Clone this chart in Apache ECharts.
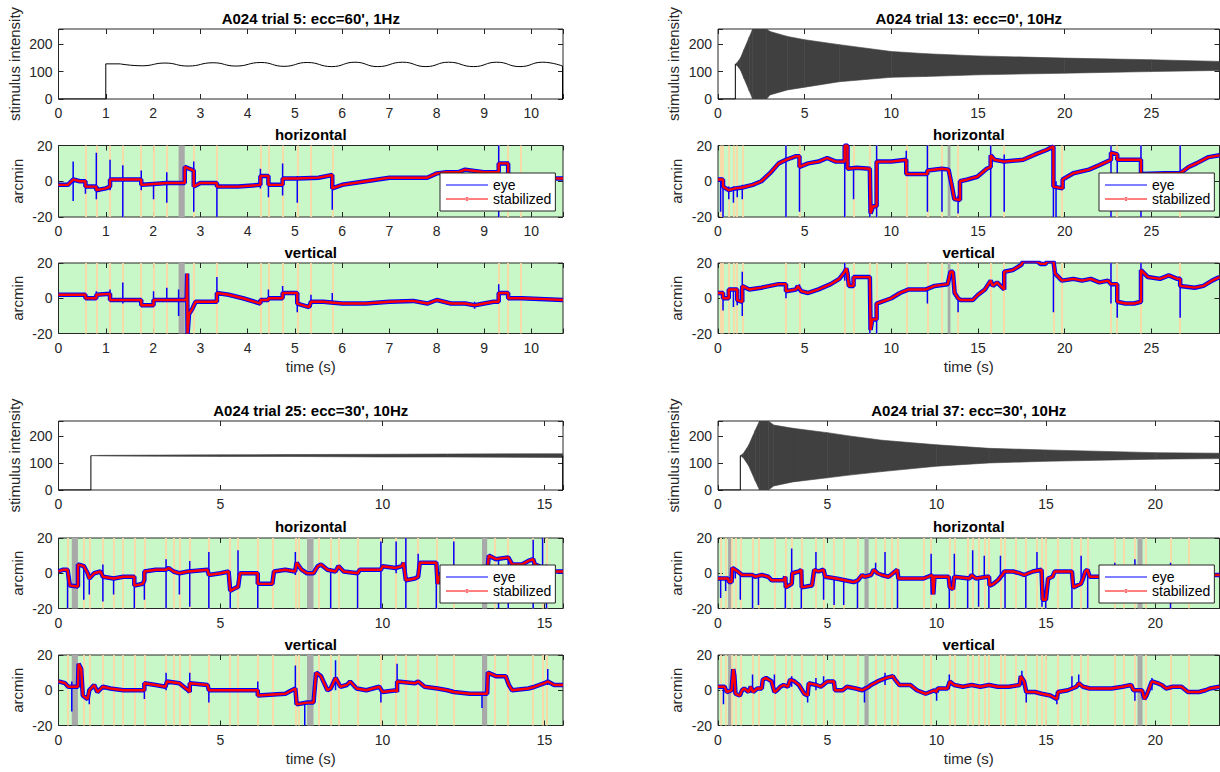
<!DOCTYPE html>
<html><head><meta charset="utf-8">
<script src="https://cdn.jsdelivr.net/npm/echarts@6/dist/echarts.min.js"></script>
<style>html,body{margin:0;padding:0;background:#fff}#c{width:1220px;height:772px}</style>
</head><body><div id="c"></div>
<script>
// ---------------- DATA ----------------
const titles = ["A024 trial 5: ecc=60', 1Hz", "A024 trial 13: ecc=0', 10Hz", "A024 trial 25: ecc=30', 10Hz", "A024 trial 37: ecc=30', 10Hz"];
const xMax = [10.67, 28.93, 15.57, 22.94];
const xInterval = [1, 5, 5, 5];

// stimulus, trial 5 (1 Hz, visible sine)
const stim5Step = [[0,0],[1,0],[1,128],[1.3,128]];
const stim5Wave = [[1.3,128],[1.77,121],[2.25,131],[2.74,120],[3.27,132],[3.75,120],[4.28,133],[4.77,119],[5.26,133],[5.78,118],[6.27,134],[6.75,118],[7.28,134],[7.77,118],[8.25,134],[8.78,118],[9.27,134],[9.76,118],[10.24,134],[10.66,120]];
const stim5End = [[10.66,120],[10.66,0]];
// stimulus envelopes [t, low, high] for 10 Hz trials
const stim13Step = [[0,0],[1.0,0],[1.0,127]];
const env13 = [[1.0,127,127],[1.1,122,132],[1.3,105,150],[1.5,75,180],[1.8,30,225],[2.0,0,255],[2.8,0,255],[3.0,15,246],[4.0,33,228],[5.0,43,216],[7.0,63,198],[10,79,173],[12,82,165],[15,88,157],[20,94,149],[25,100,143],[28.93,104,137]];
const stim25Step = [[0,0],[1.0,0],[1.0,127]];
const env25 = [[1.0,127,127],[1.3,126,128],[3,125,129],[5,124,130],[7,124,131],[10,122,132],[12,122,133],[15.56,120,134]];
const stim25End = [[15.56,127],[15.56,0]];
const stim37Step = [[0,0],[1.02,0],[1.02,127]];
const env37 = [[1.02,127,127],[1.15,120,134],[1.4,90,165],[1.7,35,220],[1.9,0,255],[2.3,0,255],[2.55,15,240],[3.43,30,228],[5,45,212],[6,55,200],[7.5,68,184],[10,88,167],[12.4,100,154],[15,106,148],[20,114,138],[22.94,116,136]];

// event markers
const orange5 = [0.57,0.80,1.09,1.36,1.75,2.01,2.29,2.86,3.35,4.27,4.44,4.74,5.05,5.34,5.79,9.31,9.51,9.78];
const gray5 = [[2.54,2.67]];
const orange13 = [0.15,0.29,0.62,0.89,1.11,1.40,3.92,4.70,7.31,7.82,8.76,9.15,10.86,12.08,12.92,13.85,15.73,16.51,19.35,19.84,22.67,23.03,24.40,26.66];
const gray13 = [[13.25,13.41]];
const orange25 = [0.28,0.78,0.95,1.37,1.70,1.99,2.34,2.65,3.32,3.55,3.73,4.05,4.64,5.30,5.54,6.15,6.60,7.31,7.43,8.02,8.40,8.64,9.23,9.95,10.42,10.72,11.10,11.66,12.20,13.46,13.88,14.65,14.94,15.06];
const gray25 = [[0.41,0.60],[7.67,7.87],[13.07,13.23]];
const orange37 = [0.12,0.35,0.65,0.79,1.02,1.58,1.85,2.58,3.08,3.37,3.81,4.48,4.83,5.31,5.75,6.38,7.21,7.64,7.96,8.21,9.40,9.75,10.58,10.81,11.42,11.65,11.92,12.18,12.39,12.92,13.13,13.62,14.08,14.59,14.82,14.99,15.55,16.19,16.61,16.91,18.15,18.54,19.07,19.56,20.70,21.53];
const gray37 = [[0.46,0.62],[6.70,6.89],[19.19,19.42]];

// eye traces (arcmin) [t, value]; spikes [t, low, high]
const h5 = [[0,-2],[0.2,-2],[0.31,1],[0.45,0],[0.57,0],[0.57,-3],[0.8,-3],[0.8,-5],[1.0,-4],[1.09,-3],[1.09,1],[1.4,1],[1.75,1],[1.75,-2],[2.01,-1.5],[2.29,-1],[2.54,-1],[2.67,-1],[2.67,8],[2.86,6],[2.86,-3],[3.0,-1],[3.35,-1],[3.35,-3],[3.8,-3],[4.27,-2],[4.27,3],[4.44,3],[4.44,-2],[4.74,-2],[4.74,1.5],[5.05,1.5],[5.5,2],[5.79,3.5],[5.79,-4],[6.0,-2],[6.5,0],[7.0,2],[7.5,2],[7.8,2],[8.0,4.4],[8.2,5],[8.45,5],[8.6,6.5],[8.99,5],[9.31,5],[9.31,10],[9.51,10],[9.51,3],[9.8,2],[10.4,1.6],[10.67,1.5]];
const spikes5h = [[0.31,-11,11],[0.57,-7,-1],[0.8,-10,16],[1.09,-5,12],[1.36,-20,9],[1.75,-5,6],[2.01,-10,-1],[2.29,-12,5],[2.86,-17,11],[3.35,-20,-1],[4.27,-4,7],[4.44,-9,3],[4.74,-8,10],[5.05,-12,3],[5.79,-16,4],[9.31,-20,20],[9.51,2,11]];
const v5 = [[0,2],[0.57,2],[0.57,0],[0.8,0],[0.8,2],[1.09,2.5],[1.09,-1],[1.36,-1],[1.75,-1],[1.75,-4],[2.01,-4],[2.01,-1],[2.29,-1],[2.54,-1],[2.67,-1],[2.71,0],[2.72,14],[2.73,-20],[2.76,-9],[2.83,-6],[2.9,-2],[3.35,-2],[3.35,3],[3.6,2],[3.9,0],[4.27,-3],[4.27,-1],[4.44,-1],[4.44,0],[4.74,0],[4.74,3],[5.05,3],[5.05,-3],[5.3,-5],[5.34,-2],[5.6,-2],[6.0,-3],[6.5,-3],[7.0,-2],[7.5,-1.5],[7.8,-3],[8.0,-1],[8.3,-3],[8.6,-3],[8.8,-4],[9.2,-2],[9.31,-2],[9.31,3],[9.51,3],[9.51,0],[9.8,0],[10.3,-0.5],[10.67,-1]];
const spikes5v = [[0.8,-1,4],[1.09,0,5],[1.36,-3,9],[2.01,-4,4],[2.29,-2,6],[2.54,-10,5],[3.35,-2,12],[4.44,-1,5],[4.74,0,7],[5.05,-8,3],[5.34,-5,2],[5.79,-3,3],[8.8,-6,-2],[9.31,-2,8],[9.51,-1,3]];

const h13 = [[0,1],[0.29,1],[0.29,-3],[0.62,-5],[1.0,-4],[1.4,-3.5],[2.0,-2],[2.5,0],[3.0,4.5],[3.5,10],[3.92,12],[4.2,13],[4.5,14],[4.7,14],[4.7,8],[5.2,10],[5.8,11],[6.3,13],[6.8,11],[7.31,11],[7.31,20],[7.47,20],[7.47,7],[8.0,7.5],[8.76,7],[8.8,-18],[8.95,-14],[9.15,-14],[9.15,11],[10.0,11],[10.86,12],[10.86,4],[12.08,4],[12.08,6],[12.92,7],[13.3,6.5],[13.5,-3],[13.63,-10],[13.96,-10.5],[13.96,0],[14.4,1],[14.96,2.5],[15.5,7],[15.73,8],[15.73,14.5],[15.95,12],[16.51,11],[17.6,12],[18.3,15],[18.95,17.5],[19.35,19.5],[19.35,-3],[19.88,-4],[19.88,1],[20.5,4.5],[21.4,6.5],[22.0,9],[22.67,12],[22.67,16],[23.03,15],[23.03,12],[24.4,12],[24.4,4],[25.8,4.5],[26.66,4.5],[27.15,8],[27.6,10],[28.3,13.5],[28.93,14.5]];
const spikes13h = [[0.15,-17,2],[0.29,-20,1],[0.62,-10,-3],[0.89,-12,-3],[1.11,-9,-3],[1.4,-10,-2],[3.92,-20,20],[4.7,-17,10],[7.31,-20,20],[7.82,-10,8],[8.76,-20,7],[9.15,-20,20],[10.86,3,17],[12.08,-17,20],[12.92,-17,7],[13.85,-18,-8],[15.73,-20,20],[16.51,-17,15],[19.35,-20,20],[19.5,-20,0],[22.67,-20,20],[23.03,-15,15],[24.4,-20,20],[26.66,4,20]];
const v13 = [[0,3],[0.29,3],[0.29,0],[0.62,0],[0.62,5],[1.11,5],[1.11,-1],[1.4,-2],[1.4,7],[1.8,5],[2.5,6],[3.0,7],[3.5,8],[3.92,8],[3.92,4],[4.5,5],[4.6,7],[4.8,4],[5.2,3],[5.8,5],[6.5,8],[7.0,11],[7.31,15],[7.4,17],[7.47,14],[7.55,7],[7.82,7],[7.82,12],[8.76,12],[8.8,-18],[8.9,-12],[9.15,-12],[9.15,-3],[10.0,0],[10.5,3],[11.0,5],[12.0,5],[12.5,7],[13.25,8],[13.41,15],[13.55,15],[13.65,3],[13.85,0],[14.0,-1],[14.7,-1],[15.0,2],[15.4,5],[15.73,10],[15.85,7],[16.1,9],[16.3,7],[16.51,5],[16.51,15],[17.0,16],[17.5,19],[17.6,21],[18.4,21],[18.6,19.5],[18.9,19.5],[19.0,21],[19.35,21],[19.45,14],[19.84,10],[20.5,11],[21.0,10],[21.5,11],[22.0,9],[22.5,10],[22.67,8],[23.03,8],[23.03,-2],[23.5,-3],[24.0,-3],[24.4,-2],[24.4,16],[24.8,12],[25.5,11],[26.0,13],[26.5,11],[26.66,11],[26.66,7],[27.5,6],[28.0,7],[28.5,10],[28.93,12]];
const spikes13v = [[0.29,-7,3],[0.89,-5,5],[1.11,-4,5],[1.4,-10,15],[3.92,0,8],[4.7,4,8],[7.31,10,20],[8.76,-20,12],[9.15,-20,-3],[12.08,-3,5],[13.85,-8,0],[19.35,-8,20],[22.67,-3,20],[23.03,-11,8],[24.4,-3,20],[26.66,-11,11]];

const h25 = [[0,1],[0.15,2],[0.28,2],[0.35,-7],[0.6,-7.5],[0.6,5],[0.78,4],[0.9,0],[0.95,-3],[1.1,0],[1.3,1],[1.37,-2],[1.7,-3],[2.0,-2],[2.34,-2],[2.34,-7],[2.6,-6],[2.65,-4],[2.65,1],[3.0,2],[3.32,2],[3.4,3],[3.55,1],[3.73,0],[4.0,1],[4.6,2],[4.64,-1],[5.0,0],[5.25,1],[5.3,-10],[5.5,-8],[5.54,-8],[5.6,0],[6.15,0],[6.15,-6],[6.6,-6],[6.65,1],[7.0,2],[7.3,1],[7.35,6],[7.5,2],[7.67,0],[7.87,0],[8.0,4],[8.1,5],[8.3,2],[8.55,1],[8.64,4],[8.8,1],[9.23,0],[9.3,2],[9.95,2],[10.0,4],[10.4,3],[10.6,4],[10.65,6],[10.72,-4],[11.0,-3],[11.1,-2],[11.15,6],[11.66,6],[11.7,-6],[11.8,0],[12.2,0],[12.5,-1],[13.07,0],[13.23,0],[13.28,10],[13.5,8],[13.88,9],[14.0,5],[14.3,5],[14.5,7],[14.65,8],[14.7,5],[15.2,1],[15.57,1]];
const spikes25h = [[0.28,-20,3],[0.78,-15,5],[0.95,-12,0],[1.37,-16,5],[1.7,-12,-2],[2.34,-20,-2],[2.65,-15,-3],[3.32,-20,8],[3.73,-12,0],[4.05,-19,7],[4.64,-20,12],[5.3,-20,0],[5.54,-8,13],[6.15,-20,0],[7.31,-1,12],[8.4,-20,2],[9.23,-20,0],[9.95,-20,18],[10.42,0,18],[10.72,-20,20],[11.1,-3,11],[11.66,-20,7],[12.2,0,18],[13.58,-20,8],[13.88,-20,9],[14.65,-20,19],[14.94,0,20],[15.06,-20,5]];
const v25 = [[0,5],[0.2,4],[0.3,2],[0.6,2],[0.62,15],[0.7,12],[0.75,-3],[0.9,-5],[0.95,0],[1.1,3],[1.2,-1],[1.37,2],[1.6,1],[2.0,0],[2.65,0],[2.65,4],[3.0,3],[3.3,2],[3.35,5],[3.73,4],[4.0,0],[4.05,-1],[4.05,4],[4.6,3],[4.64,0],[6.15,0],[6.15,-3],[7.0,-2],[7.2,0],[7.31,1],[7.35,-8],[7.67,-7],[7.87,-7],[7.95,10],[8.1,8],[8.3,0],[8.4,1],[8.55,7],[8.7,2],[8.9,3],[9.0,5],[9.2,1],[9.5,0],[9.9,2],[10.0,-1],[10.42,0],[10.45,-1],[10.45,5],[11.0,4],[11.1,5],[11.3,2],[11.7,1],[12.0,0],[12.2,-1],[12.7,-2],[13.07,-2],[13.23,-2],[13.25,10],[13.5,8],[13.8,8],[13.9,3],[14.0,0],[14.5,1],[14.7,2],[15.0,4],[15.1,5],[15.3,3],[15.57,3]];
const spikes25v = [[0.41,-12,5],[0.95,-8,0],[2.65,-5,4],[3.32,0,10],[4.05,-1,10],[4.64,-7,3],[6.15,-3,5],[7.31,-8,14],[7.6,-20,-7],[8.55,0,17],[9.95,-7,2],[10.45,-1,15],[13.07,-10,-2],[15.1,3,12]];

const h37 = [[0,-3],[0.46,-3],[0.5,-5],[0.62,-5],[0.65,3],[0.9,1],[1.1,-1],[1.58,-1],[1.7,-2],[2.0,-1],[2.3,-2],[2.46,-4],[3.0,-4],[3.08,-2],[3.1,-8],[3.37,-6],[3.4,0],[3.7,1],[3.81,2],[3.83,-8],[4.3,-7],[4.4,2],[4.6,1],[4.83,2],[4.9,-2],[5.4,-3],[5.8,-4],[6.2,-5],[6.4,-4],[6.6,-1],[6.7,-2],[7.0,-1],[7.12,2],[7.3,0],[7.5,-1],[7.8,-2],[8.0,0],[8.2,2],[8.25,-3],[9.0,-3],[9.4,-3],[9.6,-2],[9.8,-1],[9.85,-12],[9.9,-2],[10.55,-2],[10.6,-8],[10.75,-9],[10.8,-2],[11.5,-3],[11.6,-1],[11.8,-3],[12.3,-2],[12.4,-2],[12.42,-7],[12.6,-6],[12.8,-4],[13.0,-1],[13.1,1],[13.5,1],[13.8,0],[14.0,-1],[14.4,1],[14.8,2],[14.85,-15],[15.0,-15],[15.1,-3],[15.3,-2],[15.4,1],[16.19,1],[16.25,-8],[16.6,-6],[16.7,-3],[16.8,1],[16.9,2],[17.0,-2],[17.4,-2],[18.0,-1],[18.5,0],[19.07,1],[19.42,2],[19.6,3],[20.2,3],[20.65,3],[21.0,1],[22.0,0],[22.6,-1],[22.94,-1]];
const spikes37h = [[0.12,-14,-2],[0.35,-10,-3],[0.79,-3,2],[1.02,-15,-1],[1.58,-20,-1],[1.85,-18,-1],[3.08,-20,-2],[3.37,-6,14],[3.81,-20,2],[4.48,0,12],[4.83,-15,2],[5.31,-18,-3],[5.75,-18,-4],[6.38,-20,-4],[7.21,0,6],[7.64,-2,12],[8.21,-20,2],[9.75,-12,11],[10.58,-20,-2],[10.81,-2,11],[11.42,-20,-3],[11.65,-3,13],[11.92,-19,-3],[12.18,-2,10],[12.39,-20,-2],[12.92,-4,10],[13.13,-20,1],[14.08,-20,-1],[14.59,1,12],[14.82,-19,2],[14.99,-20,-15],[16.19,-20,1],[16.61,-6,10],[16.91,-20,2],[18.15,0,6],[19.07,1,8],[20.7,-20,6]];
const v37 = [[0,2],[0.3,2],[0.4,-1],[0.62,0],[0.7,12],[0.75,8],[0.8,-2],[1.0,-3],[1.1,0],[1.2,1],[1.4,-1],[1.5,2],[1.6,-1],[1.8,1],[2.0,1],[2.05,6],[2.2,7],[2.45,5],[2.58,-1],[2.7,0],[2.85,2],[3.0,3],[3.2,2],[3.3,6],[3.5,5],[3.7,3],[3.95,-2],[4.1,-3],[4.15,4],[4.5,3],[4.7,2],[5.0,5],[5.3,5],[5.35,0],[5.7,0],[5.9,2],[6.3,1],[6.6,0],[6.9,2],[7.0,3],[7.3,5],[7.7,7],[8.0,8],[8.1,6],[8.3,3],[8.8,3],[9.1,0],[9.3,-1],[9.5,-2],[9.9,0],[10.0,-1],[10.05,1],[10.5,1],[10.6,5],[10.8,3],[11.2,2],[11.6,3],[12.0,2],[12.4,3],[12.8,2],[13.3,2],[13.8,3],[13.85,8],[14.0,5],[14.1,-1],[14.5,-1],[14.8,-2],[15.2,-3],[15.5,-5],[15.55,-1],[16.0,0],[16.4,2],[16.5,4],[16.7,2],[17.0,1],[18.0,1],[18.5,2],[18.9,3],[19.0,0],[19.4,0],[19.5,-5],[19.6,-3],[19.85,5],[20.1,4],[20.3,3],[20.5,1],[20.8,2],[21.2,2],[21.5,-1],[22.0,-1],[22.3,0],[22.5,1],[22.94,2]];
const spikes37v = [[0.25,-8,2],[1.58,0,9],[2.58,0,9],[3.37,2,8],[4.1,-7,0],[4.48,0,7],[4.83,2,8],[6.7,-7,2],[7.64,3,10],[10.0,-6,0],[10.58,1,9],[13.9,3,11],[14.1,-7,0],[15.5,-8,-3],[16.19,0,8],[16.5,2,9],[19.07,-6,0],[19.85,0,7]];

// ---------------- LAYOUT / STYLE ----------------
const FONT = "'Liberation Sans', Arial, Helvetica, sans-serif";
const AX = '#262626';
const GREEN = '#c8f8c8';
const colX = [[58.5, 563], [718, 1219.5]];
const rowY = [[[29,99],[145.5,217],[263,333.5]], [[421,490],[538,608.5],[655,725.5]]];
const titleY = [[18,134,252],[410,526,644.5]];
const legendPos = [[[440,173],[1099,173]],[[440,565],[1099,565]]];
const EYE_ICON = 'path://M0,0L0.01,0M0,4.5L42,4.5L42,5.5L0,5.5ZM41.99,10L42,10';
const STAB_ICON = 'path://M0,0L0.01,0M0,4.5L42,4.5L42,5.5L0,5.5ZM19.3,5a1.7,1.7 0 1,0 3.4,0a1.7,1.7 0 1,0 -3.4,0ZM41.99,10L42,10';

const trials = [
  {k:0, col:0, row:0, stimStep:stim5Step, stimWave:stim5Wave, stimEnd:stim5End, env:null, h:h5, v:v5, sh:spikes5h, sv:spikes5v, orange:orange5, gray:gray5},
  {k:1, col:1, row:0, stimStep:stim13Step, stimWave:null, stimEnd:null, env:env13, h:h13, v:v13, sh:spikes13h, sv:spikes13v, orange:orange13, gray:gray13},
  {k:2, col:0, row:1, stimStep:stim25Step, stimWave:null, stimEnd:stim25End, env:env25, h:h25, v:v25, sh:spikes25h, sv:spikes25v, orange:orange25, gray:gray25},
  {k:3, col:1, row:1, stimStep:stim37Step, stimWave:null, stimEnd:null, env:env37, h:h37, v:v37, sh:spikes37h, sv:spikes37v, orange:orange37, gray:gray37}
];

function fmt(iv){ return function(v){ const r=v/iv; return Math.abs(r-Math.round(r))<1e-6 ? String(Math.round(v*1000)/1000) : ''; }; }
function bandItem(env){
  return function(params, api){
    const i = params.dataIndex;
    if (i >= env.length - 1) return {type:'group', children:[]};
    const a = env[i], b = env[i+1];
    const pts = [api.coord([a[0],a[1]]), api.coord([a[0],a[2]]), api.coord([b[0],b[2]]), api.coord([b[0],b[1]])];
    return {type:'polygon', shape:{points:pts}, style:{fill:'#404040', stroke:'#404040', lineWidth:0.6}};
  };
}
function spikeSegments(sp){
  const out = [];
  sp.forEach(s => { out.push([s[0], s[1]]); out.push([s[0], s[2]]); out.push([s[0], '-']); });
  return out;
}

const grid=[], xAxis=[], yAxis=[], series=[], legend=[], graphic=[];

trials.forEach(tr => {
  const k = tr.k;
  const [x0, x1] = colX[tr.col];
  const cx = (x0 + x1) / 2;
  ['stim','h','v'].forEach((kind, pi) => {
    const [y0, y1] = rowY[tr.row][pi];
    const g = grid.length;
    grid.push({left:x0, top:y0, width:x1-x0, height:y1-y0, show:true,
      backgroundColor: kind==='stim' ? '#ffffff' : GREEN, borderColor:AX, borderWidth:1,
      containLabel:false, outerBoundsMode:'none'});
    const xi = xAxis.length;
    const tick = {show:true, inside:true, length:5, lineStyle:{color:AX, width:1}};
    xAxis.push({type:'value', gridIndex:g, min:0, max:xMax[k], interval:xInterval[k], position:'bottom',
      axisLine:{show:false, onZero:false}, axisTick:tick, splitLine:{show:false},
      axisLabel:{show:true, margin:7, color:AX, fontSize:14, fontFamily:FONT, formatter:fmt(xInterval[k]), hideOverlap:false},
      name: kind==='v' ? 'time (s)' : '', nameLocation:'middle', nameGap:25,
      nameTextStyle:{color:AX, fontSize:15, fontFamily:FONT}});
    xAxis.push({type:'value', gridIndex:g, min:0, max:xMax[k], interval:xInterval[k], position:'top',
      axisLine:{show:false, onZero:false}, axisTick:tick, splitLine:{show:false}, axisLabel:{show:false}});
    const yi = yAxis.length;
    const ymin = kind==='stim' ? 0 : -20, ymax = kind==='stim' ? 255 : 20, yint = kind==='stim' ? 100 : 20;
    yAxis.push({type:'value', gridIndex:g, min:ymin, max:ymax, interval:yint, position:'left',
      axisLine:{show:false, onZero:false}, axisTick:tick, splitLine:{show:false},
      axisLabel:{show:true, margin:6, color:AX, fontSize:14, fontFamily:FONT, formatter:fmt(yint), hideOverlap:false},
      name: kind==='stim' ? 'stimulus intensity' : 'arcmin', nameLocation:'middle',
      nameGap: kind==='stim' ? 37 : 34, nameRotate:90,
      nameTextStyle:{color:AX, fontSize:15, fontFamily:FONT}});
    yAxis.push({type:'value', gridIndex:g, min:ymin, max:ymax, interval:yint, position:'right',
      axisLine:{show:false, onZero:false}, axisTick:tick, splitLine:{show:false}, axisLabel:{show:false}});
    const ax = {xAxisIndex:xi, yAxisIndex:yi};

    const ttl = kind==='stim' ? titles[k] : (kind==='h' ? 'horizontal' : 'vertical');
    graphic.push({type:'text', x:cx, y:titleY[tr.row][pi], silent:true,
      style:{text:ttl, fill:'#000', font:'bold 15px ' + FONT, align:'center', verticalAlign:'middle', textAlign:'center', textVerticalAlign:'middle'}});

    if (kind === 'stim') {
      if (tr.env) {
        series.push(Object.assign({type:'custom', name:'stimBand'+k, data:tr.env, renderItem:bandItem(tr.env),
          clip:true, silent:true, z:2}, ax));
      }
      series.push(Object.assign({type:'line', name:'stimStep'+k, symbol:'none', silent:true, data:tr.stimStep,
        lineStyle:{color:'#000', width:1}, z:3}, ax));
      if (tr.stimWave) series.push(Object.assign({type:'line', name:'stimWave'+k, symbol:'none', silent:true, smooth:0.5,
        data:tr.stimWave, lineStyle:{color:'#000', width:1}, z:3}, ax));
      if (tr.stimEnd) series.push(Object.assign({type:'line', name:'stimEnd'+k, symbol:'none', silent:true,
        data:tr.stimEnd, lineStyle:{color:'#000', width:1}, z:3}, ax));
    } else {
      const trace = kind==='h' ? tr.h : tr.v;
      const spikes = kind==='h' ? tr.sh : tr.sv;
      series.push(Object.assign({type:'line', name:'events'+g, data:[], silent:true, symbol:'none', z:1,
        markLine:{silent:true, z:1, symbol:['none','none'], label:{show:false}, animation:false,
          lineStyle:{color:'#fcd8a6', width:1.8, type:'solid', opacity:1}, emphasis:{disabled:true},
          data: tr.orange.map(t => ({xAxis:t}))},
        markArea:{silent:true, z:1, itemStyle:{color:'#a9a9a9', opacity:1}, label:{show:false},
          data: tr.gray.map(r => [{xAxis:r[0]}, {xAxis:r[1]}])}}, ax));
      series.push(Object.assign({type:'line', name:'eye', data:trace, symbol:'none', silent:true,
        lineStyle:{color:'#0000ff', width:4.5}, itemStyle:{color:'#0000ff'}, z:2}, ax));
      series.push(Object.assign({type:'line', name:'eyeSpikes'+g, data:spikeSegments(spikes), symbol:'none', silent:true,
        connectNulls:false, lineStyle:{color:'#0000ff', width:1.5, opacity:1}, z:2}, ax));
      series.push(Object.assign({type:'line', name:'stabilized', data:trace, symbol:'circle', symbolSize:3, showSymbol:false, silent:true,
        lineStyle:{color:'#ff0000', width:2.4}, itemStyle:{color:'#ff0000'}, z:3}, ax));
      if (kind === 'h') {
        const p = legendPos[tr.row][tr.col];
        legend.push({left:p[0], top:p[1], orient:'vertical', selectedMode:false,
          data:[{name:'eye', icon:EYE_ICON}, {name:'stabilized', icon:STAB_ICON}],
          backgroundColor:'#ffffff', borderColor:AX, borderWidth:1, borderRadius:0, padding:[5,4,5,6],
          itemGap:0, itemWidth:42, itemHeight:10, z:10,
          itemStyle:{borderWidth:0},
          textStyle:{color:'#000', fontSize:14, fontFamily:FONT}});
      }
    }
  });
});

const chart = echarts.init(document.getElementById('c'), null, {renderer:'svg', width:1220, height:772});
chart.setOption({animation:false, backgroundColor:'#ffffff', grid, xAxis, yAxis, series, legend, graphic,
  textStyle:{fontFamily:FONT}});
</script></body></html>
